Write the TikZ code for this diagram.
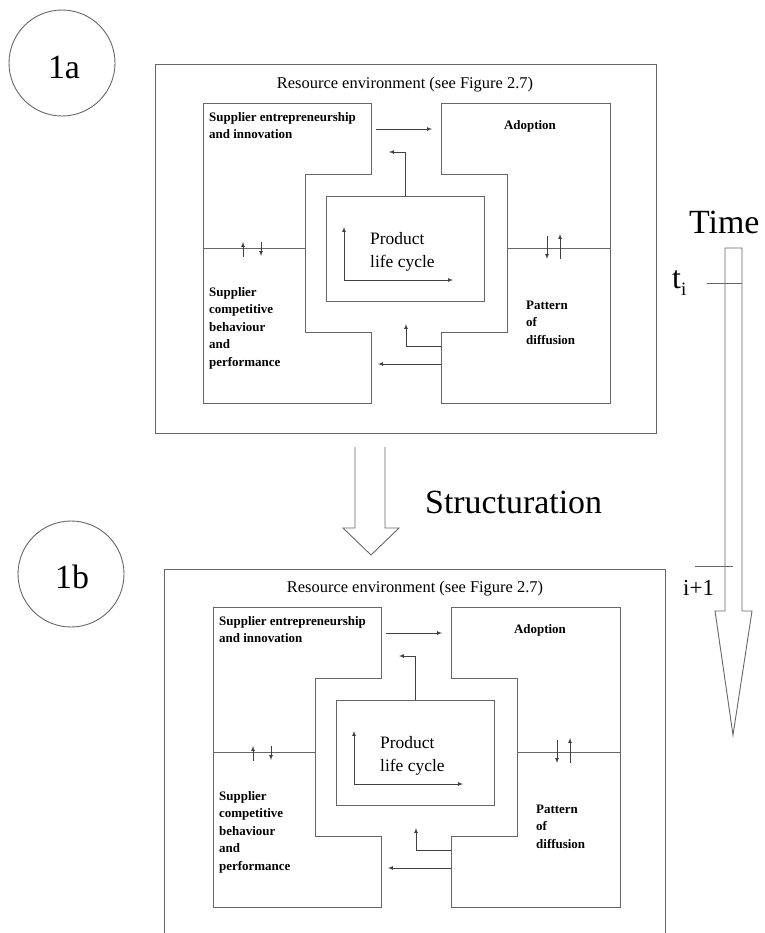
\documentclass[tikz,border=0pt]{standalone}
\usepackage{fontspec}
\setmainfont{Liberation Serif}
\usetikzlibrary{arrows}
\pgfkeys{tikz/boxline/.style={draw=black!60,line width=0.9bp}}
\pgfkeys{tikz/arr/.style={-latex,draw=black!75,line width=0.7bp}}
\pgfkeys{tikz/lbl/.style={font=\fontsize{13}{17.5}\selectfont\bfseries,align=left,inner sep=0pt}}
\pgfkeys{tikz/big/.style={font=\fontsize{34}{34}\selectfont,inner sep=0pt}}
\tikzset{
  panel/.pic={
    \node[inner sep=0pt,font=\fontsize{16.5}{18}\selectfont,anchor=base] (-title) at (405,88) {Resource environment (see Figure 2.7)};
    \draw[boxline] (203,103) -- (371,103) -- (371,174) -- (305,174) -- (305,332) -- (371,332) -- (371,403) -- (203,403) -- cycle (203,248) -- (305,248);
    \draw[boxline] (441,103) -- (610,103) -- (610,403) -- (441,403) -- (441,332) -- (507,332) -- (507,174) -- (441,174) -- cycle (507,248) -- (610,248);
    \node[boxline,minimum width=158bp,minimum height=105bp,inner sep=0pt] (-plc) at (405,248.5) {};
    \node[inner sep=0pt,font=\fontsize{17.5}{23}\selectfont,align=left,anchor=base west] (-plct) at (370,267) {Product\\life cycle};
    \node[lbl,anchor=base west] (-sei) at (209,138.5) {Supplier entrepreneurship\\and innovation};
    \node[lbl,anchor=base] (-adop) at (530,129) {Adoption};
    \node[lbl,anchor=base west] (-scb) at (209,366) {Supplier\\competitive\\behaviour\\and\\performance};
    \node[lbl,anchor=base west] (-pod) at (526,344) {Pattern\\of\\diffusion};
    \coordinate (-ya) at (344,227);
    \coordinate (-xa) at (453,280);
    \coordinate (-t1) at (376,129);
    \coordinate (-t2) at (432,129);
    \coordinate (-u1) at (389,152);
    \coordinate (-b1) at (441,346);
    \coordinate (-b2) at (406,324);
    \coordinate (-c1) at (441,364);
    \coordinate (-c2) at (378,364);
    \draw[arr,latex-latex] (-ya) |- (-xa);
    \draw[arr] (-t1) -- (-t2);
    \draw[arr] (-plc.north) |- (-u1);
    \draw[arr] (-b1) -| (-b2);
    \draw[arr] (-c1) -- (-c2);
    \foreach \x/\ya/\yb in {243/257/242,261/242/256,547/236/259,560/259/234}
      \draw[arr] (\x,\ya) -- (\x,\yb);
  }
}

\begin{document}
\begin{tikzpicture}[x=1bp,y=-1bp]
  \useasboundingbox (0,0) rectangle (765,933);
  \node[boxline,circle,minimum size=106bp,inner sep=0pt] (ca) at (62,63) {};
  \node[big,anchor=base] (la) at (64,78) {1a};
  \node[boxline,circle,minimum size=106bp,inner sep=0pt] (cb) at (71,574) {};
  \node[big,anchor=base] (lb) at (72,588) {1b};

  \draw[boxline] (155,64) rectangle (656,433);
  \pic (pa) at (0,0) {panel};
  \draw[boxline] (164,933) -- (164,569) -- (665,569) -- (665,933);
  \pic (pb) at (10,504) {panel};

  \draw[boxline] (355,447) -- (355,528) -- (343,528) -- (371,555) -- (399,528) -- (385,528) -- (385,447);
  \node[big,anchor=base west] (str) at (425,513) {Structuration};

  \draw[boxline] (725,611) -- (725,248) -- (742,248) -- (742,611) -- (752,611) -- (733,735) -- (715,611) -- cycle;
  \node[big,anchor=base west] (time) at (689,233) {Time};
  \draw[boxline] (707,283) -- (742,283);
  \node[inner sep=0pt,anchor=base west,font=\fontsize{32}{32}\selectfont] (ti) at (672,288) {t\raisebox{-0.25em}{\fontsize{19}{19}\selectfont i}};
  \draw[boxline] (695,566) -- (733,566);
  \node[inner sep=0pt,anchor=base west,font=\fontsize{23}{23}\selectfont] (ti1) at (683,595) {i+1};
\end{tikzpicture}
\end{document}
